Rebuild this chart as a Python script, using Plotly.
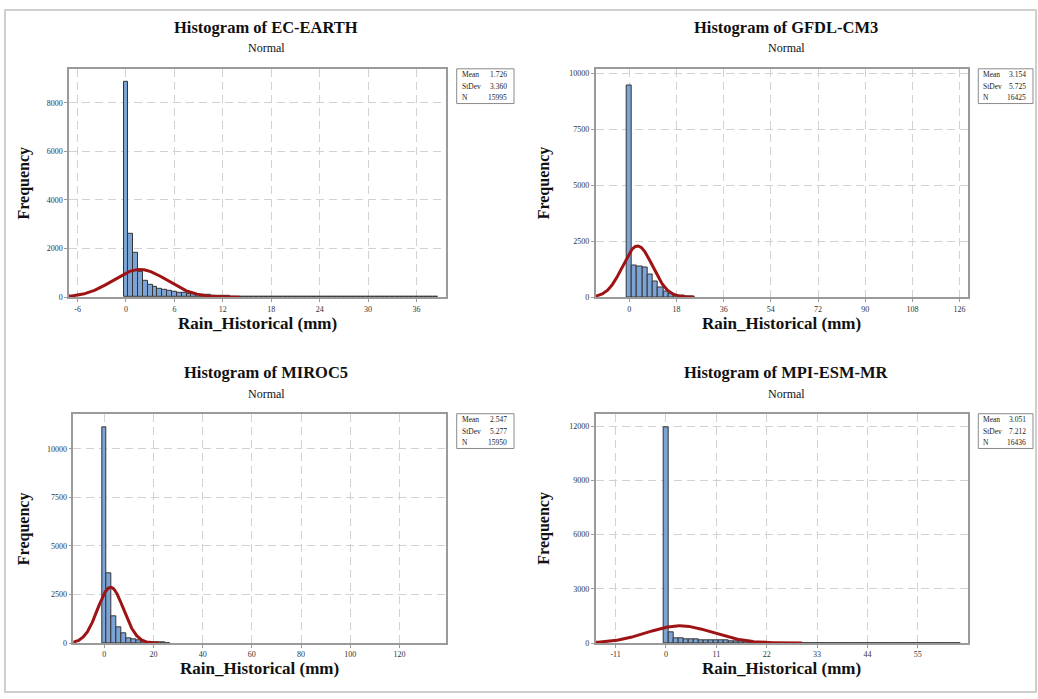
import numpy as np
import plotly.graph_objects as go

W, H = 1038, 699

# ---------------- data ----------------
models = ["EC-EARTH", "GFDL-CM3", "MIROC5", "MPI-ESM-MR"]
means = [1.726, 3.154, 2.547, 3.051]
stdevs = [3.360, 5.725, 5.277, 7.212]
ns = [15995, 16425, 15950, 16436]
bin_widths = [0.6, 2.0, 2.0, 1.1]
# area under the drawn normal curve (count x units)
curve_areas = [15995 * 0.6, 16425 * 2.0, 38000, 16436 * 1.05]

ec_earth_counts = [8880, 2600, 1840, 1060, 680, 520, 420, 350, 300, 260, 220, 190,
                   165, 140, 120, 105, 90, 78, 66, 56, 48, 40, 34, 29, 25, 22, 19,
                   6, 5, 5, 4, 4, 3, 3, 3, 2, 2, 2, 2, 2, 2, 1, 1, 1, 1, 1, 1, 1,
                   1, 1, 1, 1, 1, 1, 1, 1, 1, 1, 1, 1, 1, 1, 1, 1, 1]
gfdl_cm3_counts = [9470, 1410, 1350, 1330, 1010, 680, 445, 265, 150, 90, 60, 35, 20]
miroc5_counts = [11130, 3600, 1380, 790, 480, 260, 170, 120, 80, 55, 35, 25, 15, 10]
mpi_esm_mr_counts = [11950, 600, 280, 270, 200, 200, 210, 150, 145, 140, 135, 130,
                     125, 120, 110, 95, 70, 40, 3, 3, 2, 2, 2, 2, 1, 1, 1, 1, 1, 1,
                     1, 1, 1, 1, 1, 1, 1, 1, 1, 1, 1, 1, 1, 1, 1, 1, 1, 1, 1, 1, 1,
                     1, 1, 1, 1, 1, 1, 1, 1]
all_counts = [ec_earth_counts, gfdl_cm3_counts, miroc5_counts, mpi_esm_mr_counts]

x_ticks = [[-6, 0, 6, 12, 18, 24, 30, 36],
           [0, 18, 36, 54, 72, 90, 108, 126],
           [0, 20, 40, 60, 80, 100, 120],
           [-11, 0, 11, 22, 33, 44, 55]]
y_ticks = [[0, 2000, 4000, 6000, 8000],
           [0, 2500, 5000, 7500, 10000],
           [0, 2500, 5000, 7500, 10000],
           [0, 3000, 6000, 9000, 12000]]

# ---------------- layout geometry (pixels) ----------------
plot_boxes = [(69, 446, 69.3, 299.3), (595.7, 967.7, 70, 299.3),
              (73.3, 445.7, 417.3, 647.7), (595.7, 967.7, 417.3, 647.7)]
x_ranges = [[-7.06, 39.65], [-12.8, 129.1], [-12.6, 138.8], [-15.35, 65.9]]
y_ranges = [[0, 9400], [0, 10180], [0, 11780], [0, 12660]]
title_pos = [(266, 28, 48), (786, 28, 48), (266, 375, 397), (786, 375, 397)]
xtitle_y = [326, 326, 673, 673]
ytitle_x = [23.5, 544, 23.5, 544]
stat_boxes = [(456.7, 514, 69.3, 104.3), (978.3, 1033, 69.3, 104.3),
              (456.7, 514, 416.7, 451.7), (978.3, 1033, 416.7, 451.7)]


def px(x):
    return x / W


def py(y):
    return 1 - y / H


SERIF = "Liberation Serif"
BAR_COLOR = "#7BA3D6"
BAR_LINE = "#353535"
CURVE_COLOR = "#9E1414"
AXIS_COLOR = "#9a9a9a"
GRID_COLOR = "#d2d2d2"

fig = go.Figure()
annotations = []
shapes = []

for i in range(4):
    k = "" if i == 0 else str(i + 1)
    bw = bin_widths[i]
    counts = all_counts[i]
    centers = [j * bw for j in range(len(counts))]
    fig.add_trace(go.Bar(
        x=centers, y=counts, width=bw,
        marker=dict(color=BAR_COLOR, line=dict(color=BAR_LINE, width=1)),
        xaxis="x" + k, yaxis="y" + k, showlegend=False, hoverinfo="skip"))

    m, s = means[i], stdevs[i]
    xs = np.linspace(m - 3.7 * s, m + 3.7 * s, 400)
    ys = curve_areas[i] / (s * np.sqrt(2 * np.pi)) * np.exp(-0.5 * ((xs - m) / s) ** 2)
    fig.add_trace(go.Scatter(
        x=xs, y=ys, mode="lines", line=dict(color=CURVE_COLOR, width=3),
        xaxis="x" + k, yaxis="y" + k, showlegend=False, hoverinfo="skip"))

    L, R, T, B = plot_boxes[i]
    common = dict(showgrid=True, gridcolor=GRID_COLOR, griddash="8px,5px", gridwidth=1,
                  showline=True, mirror=True, linecolor=AXIS_COLOR, linewidth=1.5,
                  ticks="outside", ticklen=3, tickcolor=AXIS_COLOR, zeroline=False,
                  tickfont=dict(family=SERIF, size=8, color="#333333"))
    fig.layout["xaxis" + k] = dict(
        domain=[px(L), px(R)], range=x_ranges[i], tickvals=x_ticks[i],
        ticktext=[str(v) for v in x_ticks[i]], anchor="y" + k, **common)
    fig.layout["yaxis" + k] = dict(
        domain=[py(B), py(T)], range=y_ranges[i], tickvals=y_ticks[i],
        ticktext=[str(v) for v in y_ticks[i]], anchor="x" + k, **common)

    tx, ty, sy = title_pos[i]
    annotations.append(dict(text="<b>Histogram of %s</b>" % models[i], x=px(tx), y=py(ty),
                            xref="paper", yref="paper", showarrow=False,
                            font=dict(family=SERIF, size=16.5, color="#111111"),
                            xanchor="center", yanchor="middle"))
    annotations.append(dict(text="Normal", x=px(tx), y=py(sy),
                            xref="paper", yref="paper", showarrow=False,
                            font=dict(family=SERIF, size=12, color="#111111"),
                            xanchor="center", yanchor="middle"))
    annotations.append(dict(text="<b>Rain_Historical (mm)</b>", x=px((L + R) / 2), y=py(xtitle_y[i]),
                            xref="paper", yref="paper", showarrow=False,
                            font=dict(family=SERIF, size=17, color="#111111"),
                            xanchor="center", yanchor="middle"))
    annotations.append(dict(text="<b>Frequency</b>", x=px(ytitle_x[i]), y=py((T + B) / 2),
                            xref="paper", yref="paper", showarrow=False, textangle=-90,
                            font=dict(family=SERIF, size=16, color="#111111"),
                            xanchor="center", yanchor="middle"))

    bl, br, bt, bb = stat_boxes[i]
    shapes.append(dict(type="rect", xref="paper", yref="paper",
                       x0=px(bl), x1=px(br), y0=py(bb), y1=py(bt),
                       line=dict(color="#8a8a8a", width=1), fillcolor="white"))
    labels = ["Mean", "StDev", "N"]
    values = ["%.3f" % means[i], "%.3f" % stdevs[i], str(ns[i])]
    for r in range(3):
        yy = bt + 6 + r * 11.5
        annotations.append(dict(text=labels[r], x=px(bl + 3), y=py(yy), xref="paper", yref="paper",
                                showarrow=False, xanchor="left", yanchor="middle",
                                font=dict(family=SERIF, size=7.5, color="#222222")))
        annotations.append(dict(text=values[r], x=px(br - 5), y=py(yy), xref="paper", yref="paper",
                                showarrow=False, xanchor="right", yanchor="middle",
                                font=dict(family=SERIF, size=7.5, color="#222222")))

# outer frame
shapes.append(dict(type="rect", xref="paper", yref="paper",
                   x0=px(5), x1=px(1036), y0=py(697), y1=py(10),
                   line=dict(color="#cfcfcf", width=2), fillcolor="rgba(0,0,0,0)", layer="below"))

fig.update_layout(width=W, height=H, autosize=False,
                  margin=dict(l=0, r=0, t=0, b=0),
                  paper_bgcolor="white", plot_bgcolor="white",
                  barmode="overlay", bargap=0,
                  annotations=annotations, shapes=shapes)

fig.write_html("out.html", config={"displayModeBar": False},
               post_script="document.body.style.margin='0px';")
